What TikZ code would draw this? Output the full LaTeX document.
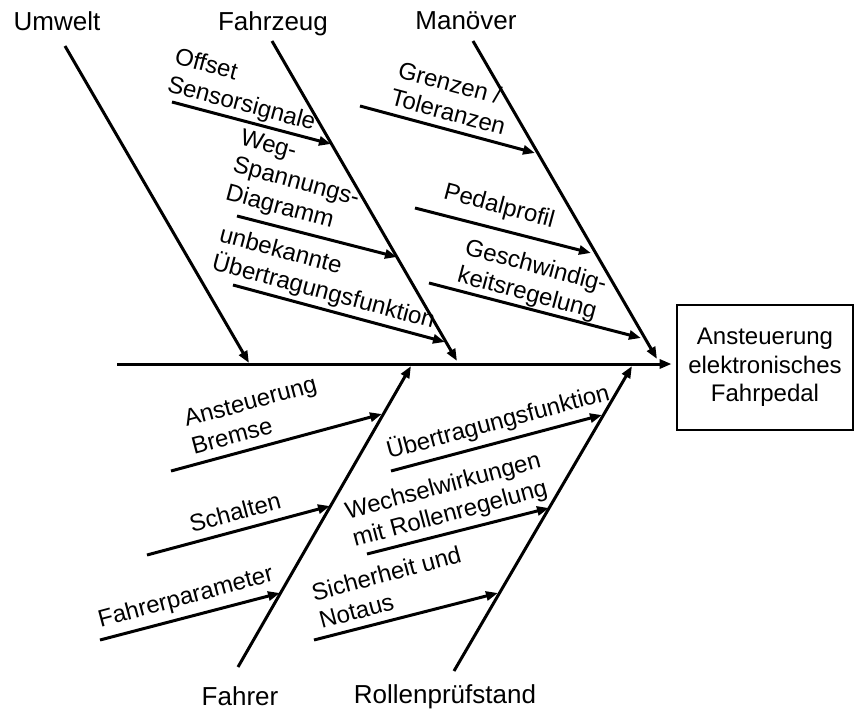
\documentclass[tikz,border=0pt]{standalone}
\usepackage{fontspec}
\setmainfont{Liberation Sans}
\usetikzlibrary{arrows.meta}

\begin{document}
\begin{tikzpicture}
[every node/.style={inner sep=0pt},
 bone/.style={line width=3pt, -{Triangle[length=12pt,width=9pt]}, color=black},
 cause/.style={font=\fontsize{26}{31}\selectfont, anchor=base},
 twig/.style={font=\fontsize{24}{28.5}\selectfont, align=left}]
\useasboundingbox (0pt, 0pt) rectangle (855pt, -710pt);
% effect
\node (ziel) [draw=black, line width=2.8pt, minimum width=176pt, minimum height=125pt, align=center, font=\fontsize{24}{28.5}\selectfont] at (765.0pt, -367.5pt) {Ansteuerung\\elektronisches\\Fahrpedal};
% main causes
\node (umwelt) [cause] at (57.0pt, -30.0pt) {Umwelt};
\node (fahrzeug) [cause] at (273.0pt, -30.0pt) {Fahrzeug};
\node (manoever) [cause] at (466.0pt, -29.0pt) {Manöver};
\node (fahrer) [cause] at (240.0pt, -705.0pt) {Fahrer};
\node (pruefstand) [cause] at (445.0pt, -703.0pt) {Rollenprüfstand};
\coordinate (s0) at (117.0pt, -364.0pt);
\coordinate (u0) at (65.0pt, -46.0pt);
\coordinate (u1) at (249.0pt, -363.0pt);
\coordinate (f0) at (272.0pt, -41.0pt);
\coordinate (f1) at (457.0pt, -361.0pt);
\coordinate (m0) at (473.0pt, -41.0pt);
\coordinate (m1) at (657.0pt, -359.0pt);
\coordinate (d0) at (238.0pt, -667.0pt);
\coordinate (d1) at (411.0pt, -366.0pt);
\coordinate (r0) at (454.0pt, -671.0pt);
\coordinate (r1) at (632.0pt, -366.0pt);
% sub causes, upper half
\node (offset) [twig, rotate=-15] at (245.0pt, -91.0pt) {Offset\\Sensorsignale};
\node (weg) [twig, rotate=-15] at (296.0pt, -183.0pt) {Weg-\\Spannungs-\\Diagramm};
\node (unbek) [twig, rotate=-15] at (327.0pt, -279.0pt) {unbekannte\\Übertragungsfunktion};
\node (grenz) [twig, rotate=-15] at (452.0pt, -98.0pt) {Grenzen /\\Toleranzen};
\node (pedal) [twig, rotate=-15] at (499.0pt, -207.0pt) {Pedalprofil};
\node (geschw) [twig, rotate=-15] at (532.0pt, -281.0pt) {Geschwindig-\\keitsregelung};
\coordinate (offset0) at (172.0pt, -102.0pt);
\coordinate (offset1) at (331.0pt, -144.0pt);
\coordinate (weg0) at (237.0pt, -216.0pt);
\coordinate (weg1) at (397.0pt, -257.0pt);
\coordinate (unbek0) at (233.0pt, -285.0pt);
\coordinate (unbek1) at (445.0pt, -342.0pt);
\coordinate (grenz0) at (360.0pt, -106.0pt);
\coordinate (grenz1) at (535.0pt, -153.0pt);
\coordinate (pedal0) at (415.0pt, -208.0pt);
\coordinate (pedal1) at (591.0pt, -253.0pt);
\coordinate (geschw0) at (429.0pt, -283.0pt);
\coordinate (geschw1) at (641.0pt, -338.0pt);
% sub causes, lower half
\node (bremse) [twig, rotate=15] at (254.0pt, -415.0pt) {Ansteuerung\\Bremse};
\node (schalt) [twig, rotate=15] at (235.0pt, -512.0pt) {Schalten};
\node (param) [twig, rotate=15] at (186.0pt, -598.0pt) {Fahrerparameter};
\node (uebertr) [twig, rotate=15] at (498.0pt, -422.0pt) {Übertragungsfunktion};
\node (wechsel) [twig, rotate=15] at (447.0pt, -501.0pt) {Wechselwirkungen\\mit Rollenregelung};
\node (sicher) [twig, rotate=15] at (390.0pt, -587.0pt) {Sicherheit und\\Notaus};
\coordinate (bremse0) at (171.0pt, -471.0pt);
\coordinate (bremse1) at (382.0pt, -414.0pt);
\coordinate (schalt0) at (147.0pt, -555.0pt);
\coordinate (schalt1) at (330.0pt, -506.0pt);
\coordinate (param0) at (100.0pt, -640.0pt);
\coordinate (param1) at (280.0pt, -593.0pt);
\coordinate (uebertr0) at (391.0pt, -471.0pt);
\coordinate (uebertr1) at (602.0pt, -415.0pt);
\coordinate (wechsel0) at (367.0pt, -554.0pt);
\coordinate (wechsel1) at (549.0pt, -508.0pt);
\coordinate (sicher0) at (314.0pt, -640.0pt);
\coordinate (sicher1) at (498.0pt, -593.0pt);
% spine and bones
\draw [bone, shorten >=4pt] (s0) to (s0 -| ziel.west);
\draw [bone] (u0) to (u1);
\draw [bone] (f0) to (f1);
\draw [bone] (m0) to (m1);
\draw [bone] (d0) to (d1);
\draw [bone] (r0) to (r1);
\draw [bone] (offset0) to (offset1);
\draw [bone] (weg0) to (weg1);
\draw [bone] (unbek0) to (unbek1);
\draw [bone] (grenz0) to (grenz1);
\draw [bone] (pedal0) to (pedal1);
\draw [bone] (geschw0) to (geschw1);
\draw [bone] (bremse0) to (bremse1);
\draw [bone] (schalt0) to (schalt1);
\draw [bone] (param0) to (param1);
\draw [bone] (uebertr0) to (uebertr1);
\draw [bone] (wechsel0) to (wechsel1);
\draw [bone] (sicher0) to (sicher1);
\end{tikzpicture}
\end{document}
